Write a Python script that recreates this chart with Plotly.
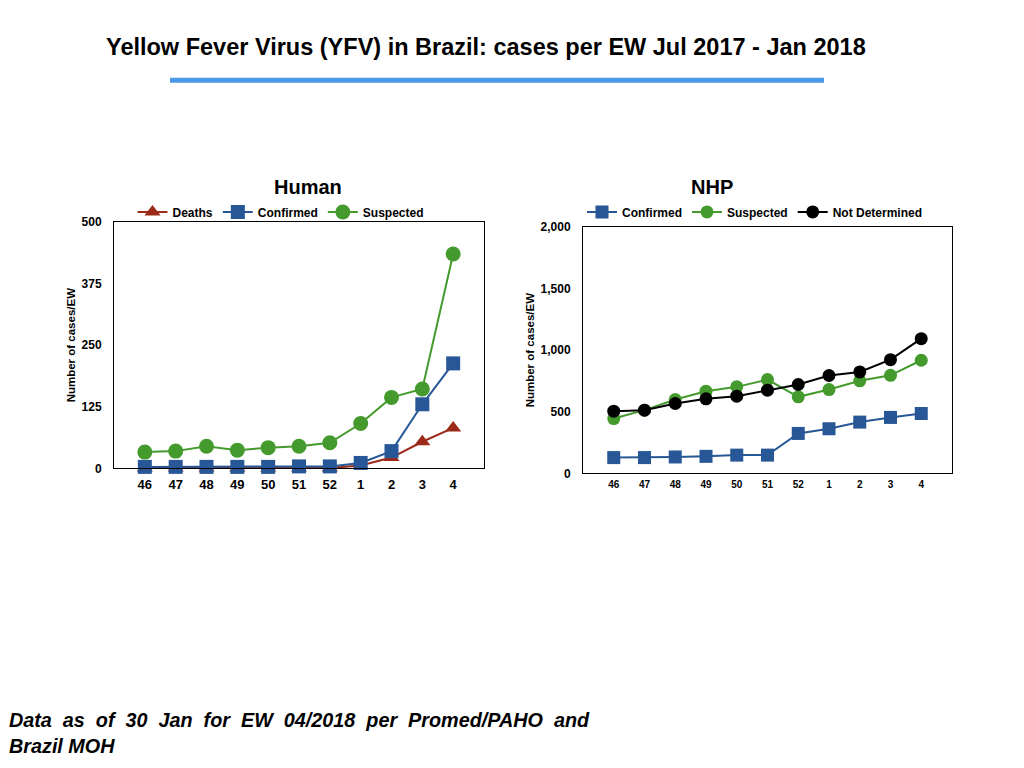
import plotly.graph_objects as go

# epidemiological weeks (EW 46/2017 - EW 04/2018)
weeks = ["46", "47", "48", "49", "50", "51", "52", "1", "2", "3", "4"]

# Human cases per EW
human_deaths = [1, 1, 1, 1, 1, 1, 1, 6, 22, 54, 82]
human_confirmed = [3, 3, 3, 3, 3, 4, 4, 11, 35, 130, 213]
human_suspected = [33, 35, 45, 37, 42, 45, 52, 91, 144, 161, 435]

# Non-human primates (NHP) cases per EW
nhp_confirmed = [128, 128, 133, 138, 148, 148, 324, 362, 416, 454, 486]
nhp_suspected = [445, 513, 599, 667, 702, 761, 621, 680, 751, 796, 918]
nhp_not_determined = [505, 513, 567, 605, 626, 675, 721, 794, 823, 923, 1093]

RED = "#9b2a18"
BLUE = "#275796"
GREEN = "#449a2d"
BLACK = "#000000"
FONT = "Liberation Sans"


# screen pixel -> paper fraction (page has an offset around the figure)
def px(x):
    return (x - 8) / 1024


def py(y):
    return 1 - ((y - 13.6) / 0.984) / 768


fig = go.Figure()


def add_series(y, name, color, symbol, xaxis, yaxis, legend, size=14):
    fig.add_trace(
        go.Scatter(
            x=weeks,
            y=y,
            mode="lines+markers",
            name=name,
            line=dict(color=color, width=2),
            marker=dict(color=color, size=size, symbol=symbol),
            xaxis=xaxis,
            yaxis=yaxis,
            legend=legend,
            cliponaxis=False,
        )
    )


# Human panel
add_series(human_deaths, "Deaths", RED, "triangle-up", "x", "y", "legend")
add_series(human_confirmed, "Confirmed", BLUE, "square", "x", "y", "legend")
add_series(human_suspected, "Suspected", GREEN, "circle", "x", "y", "legend", 15)

# NHP panel
add_series(nhp_confirmed, "Confirmed", BLUE, "square", "x2", "y2", "legend2", 13)
add_series(nhp_suspected, "Suspected", GREEN, "circle", "x2", "y2", "legend2", 13)
add_series(nhp_not_determined, "Not Determined", BLACK, "circle", "x2", "y2", "legend2", 13)

axis_common = dict(
    showline=True,
    linecolor="black",
    linewidth=1,
    mirror=True,
    showgrid=False,
    zeroline=False,
    ticks="",
)
tickfont = dict(family=FONT, size=12, color="black", weight="bold")
ytitle_font = dict(family=FONT, size=11.5, color="black", weight="bold")
legend_common = dict(
    orientation="h", xanchor="center", yanchor="middle",
    font=dict(family=FONT, size=12, weight="bold"),
    itemwidth=30, bgcolor="rgba(0,0,0,0)",
)

fig.update_layout(
    width=1024,
    height=768,
    margin=dict(l=0, r=0, t=0, b=0),
    paper_bgcolor="white",
    plot_bgcolor="white",
    showlegend=True,
    font=dict(family=FONT, color="black"),
    xaxis=dict(
        axis_common, type="category", range=[-1, 11],
        domain=[px(114), px(484)], anchor="y",
        tickfont=dict(tickfont, size=13), ticklabelstandoff=4,
    ),
    yaxis=dict(
        axis_common, range=[0, 500], dtick=125,
        domain=[py(468), py(221)], anchor="x",
        tickfont=tickfont, ticklabelstandoff=9,
        title=dict(text="Number of cases/EW", standoff=3, font=ytitle_font),
    ),
    xaxis2=dict(
        axis_common, type="category", range=[-1, 11],
        domain=[px(583), px(952)], anchor="y2",
        tickfont=dict(tickfont, size=10), ticklabelstandoff=2,
    ),
    yaxis2=dict(
        axis_common, range=[0, 2000], dtick=500, tickformat=",",
        domain=[py(473), py(226)], anchor="x2",
        tickfont=tickfont, ticklabelstandoff=9,
        title=dict(text="Number of cases/EW", standoff=3, font=ytitle_font),
    ),
    legend=dict(legend_common, x=px(281), y=py(211)),
    legend2=dict(legend_common, x=px(755), y=py(211)),
)

# titles
fig.add_annotation(
    text="Yellow Fever Virus (YFV) in Brazil: cases per EW Jul 2017 - Jan 2018",
    x=px(486), y=py(46), xref="paper", yref="paper", yanchor="middle",
    showarrow=False, font=dict(family=FONT, size=23.5, weight="bold"),
)
fig.add_annotation(
    text="Human", x=px(272), y=py(186), xref="paper", yref="paper", yanchor="middle",
    showarrow=False, font=dict(family=FONT, size=20, weight="bold"),
)
fig.add_annotation(
    text="NHP", x=px(735), y=py(186), xref="paper", yref="paper", yanchor="middle",
    showarrow=False, font=dict(family=FONT, size=20, weight="bold"),
)
fig.add_annotation(
    text="Data  as  of  30  Jan  for  EW  04/2018  per  Promed/PAHO  and<br>Brazil MOH",
    x=px(7), y=py(733), xref="paper", yref="paper",
    xanchor="left", yanchor="middle", align="left",
    showarrow=False, font=dict(family=FONT, size=19.8, weight="bold", style="italic"),
)

# blue rule under the title
fig.add_shape(
    type="line", xref="paper", yref="paper",
    x0=px(170), x1=px(824), y0=py(79), y1=py(79),
    line=dict(color="#4a98e6", width=5),
)

fig.write_html("out.html")
